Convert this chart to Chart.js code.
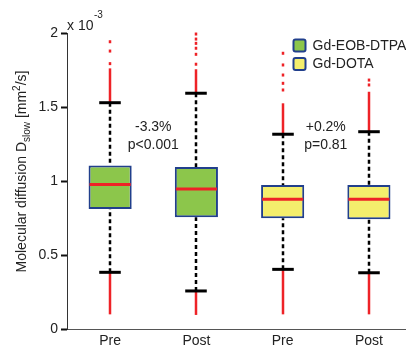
<!DOCTYPE html>
<html>
<head>
<meta charset="utf-8">
<script src="https://cdn.jsdelivr.net/npm/chart.js@4/dist/chart.umd.min.js"></script>
<style>
  html, body { margin: 0; padding: 0; background: #fff; }
  #wrap { width: 406px; height: 350px; position: relative; }
</style>
</head>
<body>
<div id="wrap"><canvas id="chart"></canvas></div>
<script>
// Box plot of the slow diffusion coefficient (in units of 1e-3 mm^2/s)
const categories = ['Pre', 'Post', 'Pre', 'Post'];
const agents = ['Gd-EOB-DTPA', 'Gd-DOTA'];

const q1          = [0.810, 0.755, 0.748, 0.741];
const median      = [0.977, 0.946, 0.876, 0.876];
const q3          = [1.105, 1.095, 0.973, 0.973];
const whiskerLow  = [0.383, 0.257, 0.403, 0.380];
const whiskerHigh = [1.529, 1.593, 1.316, 1.333];

// outliers: a dense run just beyond each whisker plus a few isolated high values
const lowOutlierMin  = [0.099, 0.095, 0.099, 0.099];
const highOutlierRun = [1.761, 1.755, 1.525, 1.603];
const highOutliers = [
  [1.793, 1.878, 1.941],
  [1.789, 1.856, 1.897, 1.930, 1.959, 1.993],
  [1.615, 1.660, 1.716, 1.784, 1.863],
  [1.649, 1.682]
];

const changeText = ['-3.3%', '+0.2%'];
const pText = ['p<0.001', 'p=0.81'];
const yTicks = [0, 0.5, 1, 1.5, 2];

const FONT = "'Liberation Sans', Arial, Helvetica, sans-serif";
const TEXT = '#222';
const RED = '#ee2227';
const EDGE = '#213f8c';
const fills = ['#8cc64b', '#f4ee6c'];

function boxesOf(chart, fn) {
  chart.data.datasets.forEach((ds, k) => {
    const meta = chart.getDatasetMeta(k);
    meta.data.forEach((el, j) => fn(ds.boxIndex[j], el));
  });
}

function seg(ctx, x1, y1, x2, y2) {
  ctx.beginPath();
  ctx.moveTo(x1, y1);
  ctx.lineTo(x2, y2);
  ctx.stroke();
}

const boxPlotParts = {
  id: 'boxPlotParts',
  beforeDatasetsDraw(chart) {
    const { ctx } = chart;
    const y = chart.scales.y;
    boxesOf(chart, (i, el) => {
      const x = Math.round(el.x);
      const cap = el.width / 4;
      ctx.save();
      // outliers
      ctx.strokeStyle = RED;
      ctx.fillStyle = RED;
      ctx.lineWidth = 2.5;
      seg(ctx, x, y.getPixelForValue(whiskerHigh[i]), x, y.getPixelForValue(highOutlierRun[i]));
      seg(ctx, x, y.getPixelForValue(whiskerLow[i]), x, y.getPixelForValue(lowOutlierMin[i]));
      highOutliers[i].forEach(v => {
        ctx.fillRect(x - 1.25, y.getPixelForValue(v) - 1.5, 2.5, 3);
      });
      // dashed whiskers
      ctx.strokeStyle = '#000';
      ctx.lineWidth = 2.5;
      ctx.setLineDash([4, 3]);
      seg(ctx, x, y.getPixelForValue(whiskerHigh[i]), x, y.getPixelForValue(q3[i]));
      seg(ctx, x, y.getPixelForValue(whiskerLow[i]), x, y.getPixelForValue(q1[i]));
      ctx.setLineDash([]);
      // whisker caps
      ctx.lineWidth = 3;
      const yh = y.getPixelForValue(whiskerHigh[i]);
      const yl = y.getPixelForValue(whiskerLow[i]);
      seg(ctx, x - cap, yh, x + cap, yh);
      seg(ctx, x - cap, yl, x + cap, yl);
      ctx.restore();
    });
  },
  afterDatasetsDraw(chart) {
    const { ctx } = chart;
    const y = chart.scales.y;
    boxesOf(chart, (i, el) => {
      const half = el.width / 2;
      const ym = y.getPixelForValue(median[i]);
      ctx.save();
      ctx.strokeStyle = RED;
      ctx.lineWidth = 3;
      seg(ctx, el.x - half + 1, ym, el.x + half - 1, ym);
      ctx.restore();
    });
  },
  afterDraw(chart, args, opts) {
    const { ctx } = chart;
    const x = chart.scales.x;
    const y = chart.scales.y;
    ctx.save();
    ctx.fillStyle = TEXT;

    // exponent label above the y axis
    ctx.textBaseline = 'alphabetic';
    ctx.textAlign = 'left';
    ctx.font = '14px ' + FONT;
    const ex = chart.chartArea.left;
    ctx.fillText('x 10', ex, 29.5);
    const w10 = ctx.measureText('x 10').width;
    ctx.font = '10px ' + FONT;
    ctx.fillText('-3', ex + w10 + 0.5, 18);

    // change and p-value notes between each Pre/Post pair
    ctx.textAlign = 'center';
    ctx.textBaseline = 'middle';
    ctx.font = '14px ' + FONT;
    changeText.forEach((t, k) => {
      const cx = x.getPixelForValue(2 * k + 1.5);
      ctx.fillText(t, cx, y.getPixelForValue(opts.noteY[0]));
      ctx.fillText(pText[k], cx, y.getPixelForValue(opts.noteY[1]));
    });

    // legend
    ctx.textAlign = 'left';
    chart.data.datasets.forEach((ds, k) => {
      const top = opts.legend.top + k * opts.legend.row;
      ctx.beginPath();
      ctx.roundRect(opts.legend.left, top, 12, 12, 2);
      ctx.fillStyle = ds.backgroundColor;
      ctx.fill();
      ctx.lineWidth = 2;
      ctx.strokeStyle = ds.borderColor;
      ctx.stroke();
      ctx.fillStyle = TEXT;
      ctx.fillText(ds.label, opts.legend.left + 19, top + 6.5);
    });

    // rotated y axis title with subscript and superscript
    const parts = [
      { t: 'Molecular diffusion D', size: 14, dy: 0 },
      { t: 'slow', size: 10, dy: 4 },
      { t: ' [mm', size: 14, dy: 0 },
      { t: '2', size: 10, dy: -6 },
      { t: '/s]', size: 14, dy: 0 }
    ];
    let total = 0;
    parts.forEach(p => {
      ctx.font = p.size + 'px ' + FONT;
      p.w = ctx.measureText(p.t).width;
      total += p.w;
    });
    ctx.translate(opts.titleX, (chart.chartArea.top + chart.chartArea.bottom) / 2 - 9.5);
    ctx.rotate(-Math.PI / 2);
    ctx.textBaseline = 'alphabetic';
    ctx.textAlign = 'left';
    let pos = -total / 2;
    parts.forEach(p => {
      ctx.font = p.size + 'px ' + FONT;
      ctx.fillText(p.t, pos, 5 + p.dy);
      pos += p.w;
    });
    ctx.restore();
  }
};

const datasets = agents.map((name, k) => {
  const idx = [2 * k, 2 * k + 1];
  return {
    label: name,
    boxIndex: idx,
    data: idx.map(i => ({ x: i + 1, y: [q1[i], q3[i]] })),
    backgroundColor: fills[k],
    borderColor: EDGE,
    borderWidth: 2,
    borderSkipped: false,
    grouped: false,
    categoryPercentage: 1,
    barPercentage: 0.5
  };
});

new Chart(document.getElementById('chart'), {
  type: 'bar',
  data: { datasets },
  options: {
    responsive: true,
    maintainAspectRatio: false,
    animation: false,
    devicePixelRatio: 1,
    layout: { padding: { top: 33, left: 0, right: 0, bottom: 0 } },
    plugins: {
      legend: { display: false },
      tooltip: { enabled: false },
      boxPlotParts: {
        noteY: [1.365, 1.245],
        legend: { left: 293.5, top: 39.5, row: 18.5 },
        titleX: 21
      }
    },
    scales: {
      x: {
        type: 'linear',
        offset: false,
        min: 0.5,
        max: 4.43,
        afterBuildTicks: s => { s.ticks = categories.map((c, i) => ({ value: i + 1 })); },
        afterFit: s => { s.height = 21; },
        ticks: {
          callback: v => categories[v - 1],
          font: { family: FONT, size: 14 },
          color: TEXT,
          padding: 4,
          autoSkip: false,
          maxRotation: 0
        },
        grid: { display: false, drawTicks: false, offset: false },
        border: { display: true, color: '#555', width: 1 }
      },
      y: {
        min: 0,
        max: 2,
        afterBuildTicks: s => { s.ticks = yTicks.map(v => ({ value: v })); },
        afterFit: s => { s.width = 67; },
        ticks: {
          callback: v => String(v),
          font: { family: FONT, size: 14 },
          color: TEXT,
          padding: 3
        },
        grid: {
          drawOnChartArea: false,
          drawTicks: true,
          tickLength: 6,
          tickWidth: 2,
          tickColor: '#111'
        },
        border: { display: true, color: '#333', width: 1 }
      }
    }
  },
  plugins: [boxPlotParts]
});
</script>
</body>
</html>
